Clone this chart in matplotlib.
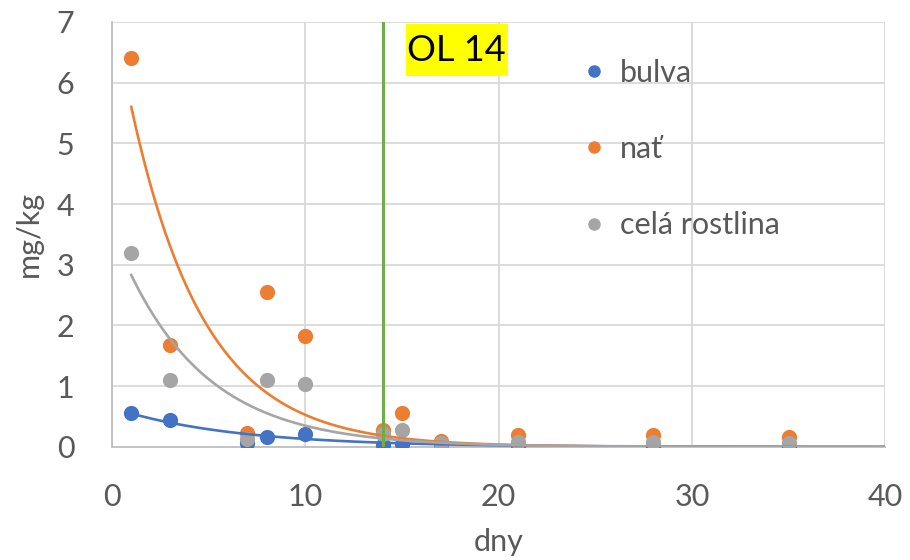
import numpy as np
import matplotlib
matplotlib.use("Agg")
import matplotlib.pyplot as plt
from matplotlib.lines import Line2D
from matplotlib.patches import Rectangle

plt.rcParams['font.family'] = ['Lato', 'DejaVu Sans']

days = [1, 3, 7, 8, 10, 14, 15, 17, 21, 28, 35]
bulva = [0.55, 0.44, 0.07, 0.17, 0.22, 0.03, 0.04, 0.05, 0.01, 0.01, 0.005]
nat = [6.4, 1.68, 0.23, 2.55, 1.82, 0.28, 0.56, 0.09, 0.20, 0.20, 0.17]
cela = [3.2, 1.1, 0.13, 1.1, 1.04, 0.22, 0.28, 0.07, 0.08, 0.08, 0.07]
series_names = ["bulva", "nať", "celá rostlina"]
colors = ["#4472C4", "#ED7D31", "#A5A5A5"]
# exponential trendline parameters y = a * exp(-k * x)
trend_a = [0.645, 7.28, 3.57]
trend_k = [0.16, 0.2625, 0.2325]
trend_range = (1, 40)
ol_day = 14
ol_label = "OL 14"

fig = plt.figure(figsize=(9.1, 5.6), dpi=100)
ax = fig.add_axes([0.123, 0.202, 0.850, 0.759])

x = np.array(days, dtype=float)
for ys, c in zip([bulva, nat, cela], colors):
    ax.scatter(x, ys, s=120, color=c, zorder=3, linewidths=0)

xt = np.linspace(trend_range[0], trend_range[1], 400)
for a, k, c in zip(trend_a, trend_k, colors):
    ax.plot(xt, a * np.exp(-k * xt), color=c, lw=1.9, zorder=4)

ax.axvline(ol_day, color="#70AD47", lw=2.2, zorder=5)
ax.add_patch(Rectangle((15.2, 6.1), 5.3, 0.87, facecolor="#FFFF00", edgecolor="none",
                       zorder=6))
ax.text(15.25, 6.53, ol_label, fontsize=26, color="black", va="center", ha="left",
        zorder=7)

ax.set_xlim(0, 40)
ax.set_ylim(0, 7)
ax.set_xticks([0, 10, 20, 30, 40])
ax.set_yticks(range(8))
ax.grid(True, color="#D9D9D9", lw=1.3)
ax.set_axisbelow(True)
for s in ["top", "right"]:
    ax.spines[s].set_visible(False)
for s in ["left", "bottom"]:
    ax.spines[s].set_color("#BFBFBF")
    ax.spines[s].set_linewidth(1.3)
ax.tick_params(axis="x", length=0, labelsize=22, labelcolor="#595959", pad=26)
ax.tick_params(axis="y", length=0, labelsize=22, labelcolor="#595959", pad=27)
ax.set_xlabel("dny", fontsize=22, color="#595959", labelpad=12)
ax.set_ylabel("mg/kg", fontsize=22, color="#595959", labelpad=10)

handles = [Line2D([], [], marker="o", ls="none", color=c, markersize=8) for c in colors]
leg = ax.legend(handles, series_names, loc="upper left", bbox_to_anchor=(0.588, 0.942),
                frameon=False, fontsize=22, labelspacing=1.58, handletextpad=0.35,
                handlelength=1.0, borderaxespad=0)
for t in leg.get_texts():
    t.set_color("#595959")

fig.savefig("out.png", dpi=100)
